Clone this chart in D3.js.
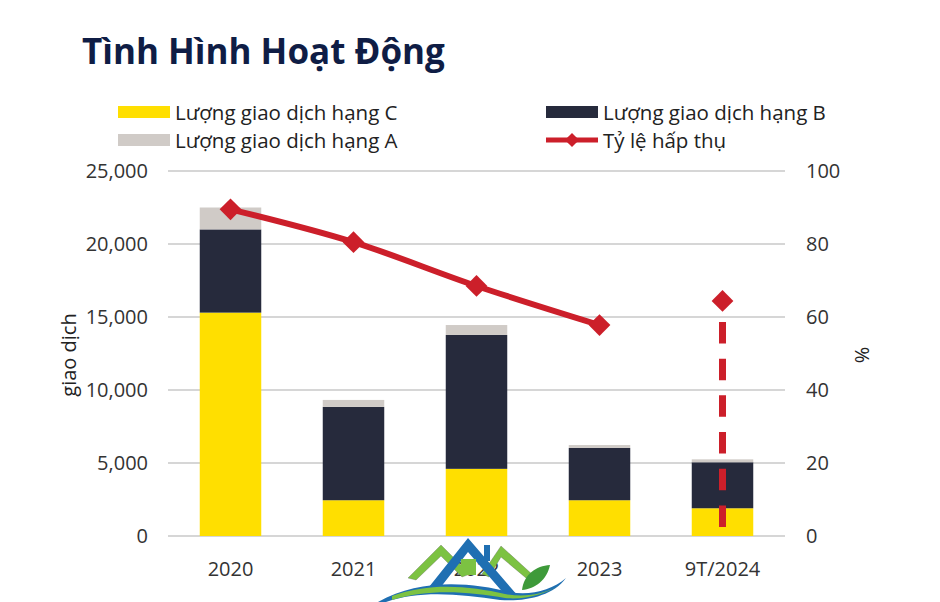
<!DOCTYPE html>
<html><head><meta charset="utf-8">
<script src="https://cdn.jsdelivr.net/npm/d3@7"></script>
<style>
html,body{margin:0;padding:0;background:#fff;}
svg{display:block;font-family:"Open Sans","Segoe UI",sans-serif;}
</style></head>
<body><svg id="c" width="940" height="602"></svg>
<script>
const categories = ["2020","2021","2022","2023","9T/2024"];
const gradeC = [15300, 2450, 4600, 2450, 1900];
const gradeB = [5700, 6390, 9170, 3580, 3150];
const gradeA = [1500, 480, 680, 200, 200];
const absorption = [89.5, 80.5, 68.5, 57.8, 64.4];
const leftTicks = [0, 5000, 10000, 15000, 20000, 25000];
const rightTicks = [0, 20, 40, 60, 80, 100];
const seriesNames = ["Lượng giao dịch hạng C","Lượng giao dịch hạng B","Lượng giao dịch hạng A","Tỷ lệ hấp thụ"];

const colors = {C:"#ffdf00", B:"#262a3c", A:"#d0cbc7", line:"#cc1f2a"};
const svg = d3.select("#c");

const x = d3.scaleBand().domain(categories).range([169,784]).paddingInner(0.5).paddingOuter(0.25);
const y = d3.scaleLinear().domain([0,25000]).range([536,171]);
const y2 = d3.scaleLinear().domain([0,100]).range([536,171]);

// title
svg.append("text").attr("x",82).attr("y",64).attr("fill","#0f1d45")
  .attr("font-size",35).attr("font-weight",700).text("Tình Hình Hoạt Động");

// gridlines
svg.append("g").selectAll("line").data(leftTicks).join("line")
  .attr("x1",168).attr("x2",785).attr("y1",d=>y(d)).attr("y2",d=>y(d))
  .attr("stroke","#c9c9c9").attr("stroke-width",1.3);

// axis labels
const fmt = d3.format(",");
svg.append("g").selectAll("text").data(leftTicks).join("text")
  .attr("x",148).attr("y",d=>y(d)+7).attr("text-anchor","end")
  .attr("font-size",20).attr("fill","#333").text(d=>fmt(d));
svg.append("g").selectAll("text").data(rightTicks).join("text")
  .attr("x",806).attr("y",d=>y2(d)+7).attr("text-anchor","start")
  .attr("font-size",20).attr("fill","#333").text(d=>d);

// axis titles
svg.append("text").attr("transform","translate(76,355) rotate(-90)").attr("text-anchor","middle")
  .attr("font-size",20).attr("fill","#222").text("giao dịch");
svg.append("text").attr("transform","translate(855,355) rotate(90)").attr("text-anchor","middle")
  .attr("font-size",20).attr("fill","#222").text("%");

// stacked bars
const rows = categories.map((c,i)=>({cat:c, C:gradeC[i], B:gradeB[i], A:gradeA[i]}));
const stack = d3.stack().keys(["C","B","A"])(rows);
svg.append("g").selectAll("g").data(stack).join("g").attr("fill",d=>colors[d.key])
  .selectAll("rect").data(d=>d).join("rect")
  .attr("x",d=>x(d.data.cat)).attr("width",x.bandwidth())
  .attr("y",d=>y(d[1])).attr("height",d=>y(d[0])-y(d[1]));

// x labels
svg.append("g").selectAll("text").data(categories).join("text")
  .attr("x",d=>x(d)+x.bandwidth()/2).attr("y",576).attr("text-anchor","middle")
  .attr("font-size",20).attr("fill","#333").text(d=>d);

// absorption line (first 4 connected)
const cx = d=>x(d)+x.bandwidth()/2;
const pts = categories.map((c,i)=>[cx(c), y2(absorption[i])]);
svg.append("path").datum(pts.slice(0,4))
  .attr("d", d3.line().curve(d3.curveMonotoneX))
  .attr("fill","none").attr("stroke",colors.line).attr("stroke-width",6).attr("stroke-linejoin","round");

// dashed drop for last point
const last = pts[4];
svg.append("line").attr("x1",last[0]).attr("x2",last[0])
  .attr("y1",last[1]+21).attr("y2",y2(2.4))
  .attr("stroke",colors.line).attr("stroke-width",7).attr("stroke-dasharray","21.5,15.2");

// diamonds
svg.append("g").selectAll("path").data(pts).join("path")
  .attr("transform",d=>`translate(${d[0]},${d[1]}) rotate(45)`)
  .attr("d","M-7.7,-7.7H7.7V7.7H-7.7Z").attr("fill",colors.line);

// legend
const leg = [
  {name:seriesNames[0], type:"rect", color:colors.C, x:118, y:112},
  {name:seriesNames[1], type:"rect", color:colors.B, x:546, y:112},
  {name:seriesNames[2], type:"rect", color:colors.A, x:118, y:140},
  {name:seriesNames[3], type:"line", color:colors.line, x:546, y:140},
];
const lg = svg.append("g");
leg.forEach(l=>{
  if(l.type==="rect"){
    lg.append("rect").attr("x",l.x).attr("y",l.y-6).attr("width",52).attr("height",12).attr("fill",l.color);
  } else {
    lg.append("line").attr("x1",l.x).attr("x2",l.x+52).attr("y1",l.y).attr("y2",l.y)
      .attr("stroke",l.color).attr("stroke-width",5);
    lg.append("path").attr("transform",`translate(${l.x+26},${l.y}) rotate(45)`).attr("d","M-5,-5H5V5H-5Z").attr("fill",l.color);
  }
  lg.append("text").attr("x",l.x+57).attr("y",l.y+7.5).attr("font-size",20.5).attr("fill","#222").text(l.name);
});

// watermark logo (decorative)
const logo = svg.append("g");
logo.append("path").attr("d","M408,578 L441,545 L470,574 L462,577 L441,556 L416,580Z").attr("fill","#7cc242").attr("stroke","#555").attr("stroke-opacity",0.3);
logo.append("path").attr("d","M482,574 L501,546 L534,576 L526,578 L501,557 L489,577Z").attr("fill","#7cc242").attr("stroke","#555").attr("stroke-opacity",0.3);
logo.append("path").attr("d","M425,592 L468,538 L518,596 L506,596 L468,552 L437,592Z").attr("fill","#1f6fb2");
logo.append("rect").attr("x",484).attr("y",545).attr("width",6).attr("height",16).attr("fill","#1f6fb2");
logo.append("rect").attr("x",461).attr("y",559).attr("width",15).attr("height",16).attr("fill","#7cc242");
logo.append("path").attr("d","M522,590 C524,574 536,566 550,565 C547,580 535,589 522,590Z").attr("fill","#3e9a3a");
logo.append("path").attr("d","M378,602 C420,578 470,582 510,592 C530,596 552,590 566,578 C553,596 525,602 500,600 C460,594 420,590 386,602Z").attr("fill","#1f6fb2");
logo.append("path").attr("d","M392,596 C430,582 470,586 505,594 C525,598 545,594 560,585 C545,594 525,600 505,598 C470,592 430,588 392,600Z").attr("fill","#7cc242");
</script></body></html>
